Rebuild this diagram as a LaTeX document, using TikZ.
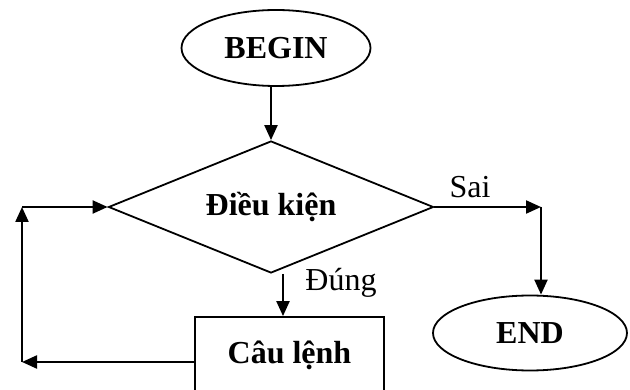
\documentclass[tikz,border=0pt]{standalone}
\usepackage{fontspec}
\setmainfont{Liberation Serif}
\usetikzlibrary{shapes.geometric,arrows.meta}
\begin{document}
\begin{tikzpicture}[x=1pt,y=-1pt,
  every node/.style={font=\fontsize{32}{36}\selectfont},
  shapeline/.style={draw=black,line width=1.8pt},
  oval/.style={shapeline,ellipse,inner sep=0pt,font=\fontsize{32}{36}\selectfont\bfseries},
  cond/.style={shapeline,diamond,inner sep=0pt,aspect=2.47,font=\fontsize{32}{36}\selectfont\bfseries},
  procbox/.style={shapeline,rectangle,inner sep=0pt,font=\fontsize{32}{36}\selectfont\bfseries},
  arr/.style={line width=2.2pt,-{Triangle[length=15pt,width=13pt]}}]
\useasboundingbox (0,0) rectangle (630,390);
\node[oval,minimum width=189pt,minimum height=76pt] (begin) at (276,48) {BEGIN};
\node[cond,minimum width=325pt,minimum height=132pt] (dk) at (271,207) {Điều kiện};
\node[procbox,minimum width=189pt,minimum height=76pt] (cl) at (289.5,355) {Câu lệnh};
\node[oval,minimum width=194pt,minimum height=75pt] (end) at (530,333) {END};
\coordinate (sai) at (541,207);
\coordinate (lb) at (22,362);
\coordinate (lt) at (22,207);
\node (sailbl) at (470,187) {Sai};
\node (dunglbl) at (341,283) {Đúng};
\draw[arr] (begin.south -| dk.north) -- (dk.north);
\draw[arr] (dk.east) -- (sai);
\draw[arr] (sai) -- (end.north -| sai);
\draw[arr] ([xshift=12pt]dk.south) -- ([xshift=12pt]dk.south |- cl.north);
\draw[arr] ([yshift=-7pt]cl.west) -- (lb);
\draw[arr] (lb) -- (lt);
\draw[arr] (lt) -- (dk.west);
\end{tikzpicture}
\end{document}
